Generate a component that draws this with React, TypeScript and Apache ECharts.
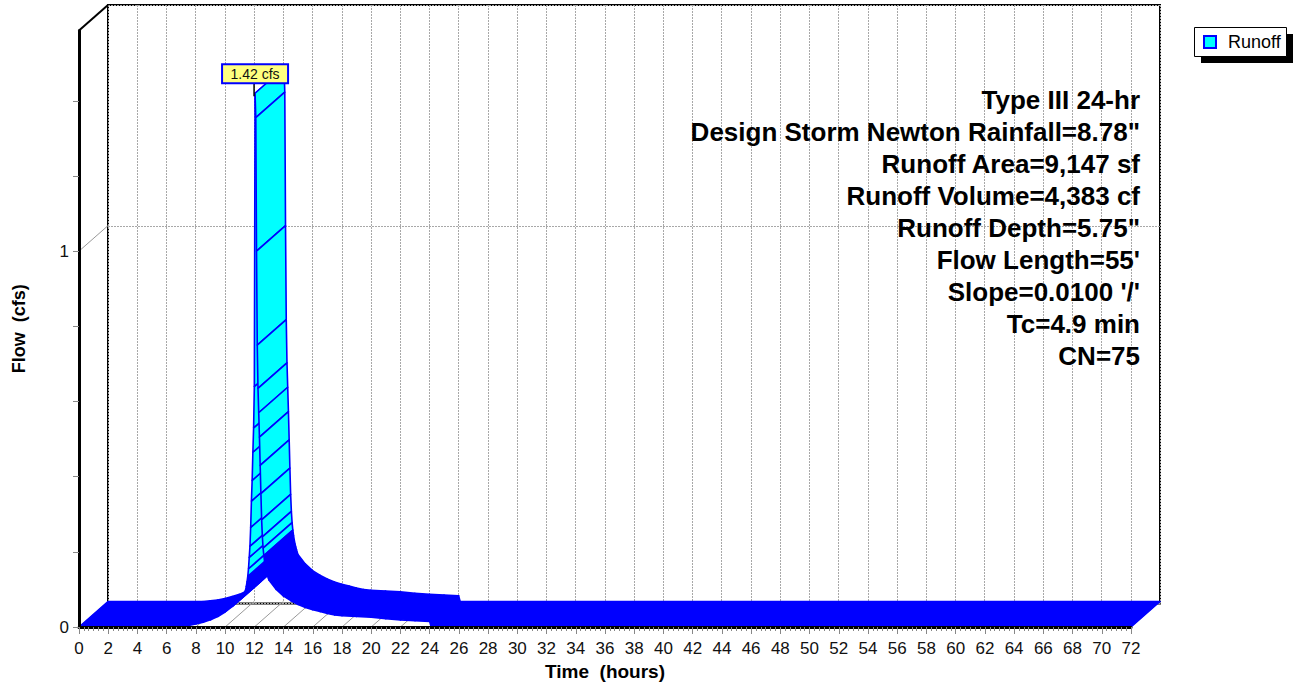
import React, { useEffect, useRef } from 'react';
import * as echarts from 'echarts';

// ---- data ----
const timeHours = [
  0, 6.5, 7.0, 7.5, 8.0, 8.5, 9.0, 9.5, 10.0, 10.5, 11.0, 11.2, 11.4, 11.45, 11.5, 11.55, 11.6,
  11.65, 11.7, 11.75, 11.8, 11.85, 11.9, 11.95, 12.0, 12.05, 12.1, 12.15, 12.2, 12.25, 12.3,
  12.35, 12.4, 12.45, 12.5, 12.55, 12.6, 12.65, 12.7, 12.75, 12.8, 12.85, 12.9, 12.95, 13.0,
  13.5, 14.0, 14.5, 15.0, 15.5, 16.0, 16.5, 17.0, 17.5, 18.0, 19.0, 20.0, 21.0, 22.0, 23.0,
  24.0, 24.1, 72,
];
const flowCfs = [
  0, 0, 0.002, 0.004, 0.008, 0.013, 0.019, 0.028, 0.04, 0.055, 0.072, 0.082, 0.098, 0.108, 0.12,
  0.135, 0.155, 0.185, 0.215, 0.265, 0.335, 0.39, 0.465, 0.53, 0.64, 1.42, 1.355, 1.0, 0.75,
  0.635, 0.57, 0.505, 0.43, 0.355, 0.285, 0.24, 0.21, 0.19, 0.175, 0.163, 0.153, 0.145, 0.138,
  0.131, 0.125, 0.1, 0.082, 0.07, 0.06, 0.052, 0.046, 0.041, 0.036, 0.032, 0.03, 0.028,
  0.026, 0.022, 0.019, 0.017, 0.015, 0, 0,
];
const seriesName = 'Runoff';
const peakLabel = '1.42 cfs';
const yTickValues = [0, 0.2, 0.4, 0.6, 0.8, 1, 1.2, 1.4];
const yLabelValues = [0, 1];
const annotationLines = [
  'Type III 24-hr',
  'Design Storm Newton Rainfall=8.78"',
  'Runoff Area=9,147 sf',
  'Runoff Volume=4,383 cf',
  'Runoff Depth=5.75"',
  "Flow Length=55'",
  "Slope=0.0100 '/'",
  'Tc=4.9 min',
  'CN=75',
];
const xAxisName = 'Time  (hours)';
const yAxisName = 'Flow  (cfs)';

// ---- layout / style constants ----
const X_MIN = 0;
const X_MAX = 72;
const Y_MAX = 1.587;
const DEPTH_X = 29;
const DEPTH_Y = -25.5;
const FONT = '"Liberation Sans", Arial, Helvetica, sans-serif';
const CYAN = '#00FFFF';
const BLUE = '#0000FF';
const GRID_GRAY = '#a8a8a8';

export default function App() {
  const ref = useRef<HTMLDivElement>(null);

  useEffect(() => {
    if (!ref.current) return;
    const chart = echarts.init(ref.current, undefined, { renderer: 'svg' });

    const segments: number[][] = [];
    for (let i = 0; i < timeHours.length - 1; i++) {
      segments.push([timeHours[i], flowCfs[i], timeHours[i + 1], flowCfs[i + 1]]);
    }
    let peakIdx = 0;
    flowCfs.forEach((v, i) => {
      if (v > flowCfs[peakIdx]) peakIdx = i;
    });
    const floorTicks: number[] = [];
    for (let t = X_MIN; t <= X_MAX; t += 2) floorTicks.push(t);

    const annotationGraphics = annotationLines.map((line, i) => ({
      type: 'text',
      x: 1140,
      y: 100 + i * 32,
      z: 20,
      style: {
        text: line,
        font: `bold 26px ${FONT}`,
        fill: '#000',
        textAlign: 'right',
        textVerticalAlign: 'middle',
        align: 'right',
        verticalAlign: 'middle',
      },
    }));

    const option: any = {
      animation: false,
      backgroundColor: '#fff',
      grid: [
        { left: 79, top: 30.5, width: 1052, height: 598.5, show: false },
        {
          left: 108,
          top: 5,
          width: 1052,
          height: 598.5,
          show: true,
          borderColor: '#000',
          borderWidth: 2,
          backgroundColor: 'transparent',
        },
      ],
      xAxis: [
        {
          type: 'value',
          gridIndex: 0,
          min: X_MIN,
          max: X_MAX,
          interval: 2,
          z: 5,
          name: xAxisName,
          nameLocation: 'middle',
          nameGap: 35,
          nameTextStyle: { fontFamily: FONT, fontWeight: 'bold', fontSize: 19, color: '#000' },
          axisLine: { show: true, lineStyle: { color: '#000', width: 3 } },
          axisTick: { show: true, length: 7, lineStyle: { color: '#888', width: 1 } },
          minorTick: { show: true, splitNumber: 6, length: 4, lineStyle: { color: '#888', width: 1 } },
          axisLabel: { fontFamily: FONT, fontSize: 17, color: '#111', margin: 13 },
          splitLine: { show: false },
        },
        {
          type: 'value',
          gridIndex: 1,
          min: X_MIN,
          max: X_MAX,
          interval: 2,
          axisLine: { show: false },
          axisTick: { show: false },
          axisLabel: { show: false },
          splitLine: { show: true, lineStyle: { color: GRID_GRAY, width: 1, type: [2, 1] } },
        },
      ],
      yAxis: [
        {
          type: 'value',
          gridIndex: 0,
          min: 0,
          max: Y_MAX,
          z: 5,
          name: yAxisName,
          nameLocation: 'middle',
          nameGap: 51,
          nameTextStyle: { fontFamily: FONT, fontWeight: 'bold', fontSize: 18, color: '#000' },
          axisLine: { show: true, lineStyle: { color: '#000', width: 3 } },
          axisTick: {
            show: true,
            length: 6,
            customValues: yTickValues,
            lineStyle: { color: '#888', width: 1 },
          },
          axisLabel: {
            fontFamily: FONT,
            fontSize: 17,
            color: '#111',
            margin: 10,
            customValues: yLabelValues,
          },
          splitLine: { show: false },
        },
        {
          type: 'value',
          gridIndex: 1,
          min: 0,
          max: Y_MAX,
          interval: 1,
          axisLine: { show: false },
          axisTick: { show: false },
          axisLabel: { show: false },
          splitLine: { show: true, lineStyle: { color: GRID_GRAY, width: 1, type: [2, 1] } },
        },
      ],
      graphic: [
        // legend with drop shadow
        { type: 'rect', shape: { x: 1201, y: 34, width: 92, height: 29 }, style: { fill: '#000' }, z: 20 },
        {
          type: 'rect',
          shape: { x: 1194.5, y: 27.5, width: 92, height: 29 },
          style: { fill: '#fff', stroke: '#000', lineWidth: 1 },
          z: 21,
        },
        {
          type: 'rect',
          shape: { x: 1204, y: 36, width: 12, height: 12 },
          style: { fill: CYAN, stroke: BLUE, lineWidth: 2 },
          z: 22,
        },
        {
          type: 'text',
          x: 1228,
          y: 42,
          z: 22,
          style: {
            text: seriesName,
            font: `18px ${FONT}`,
            fill: '#000',
            textVerticalAlign: 'middle',
            verticalAlign: 'middle',
          },
        },
        ...annotationGraphics,
      ],
      series: [
        {
          // floor grid lines and side wall lines
          type: 'custom',
          name: 'floor',
          xAxisIndex: 0,
          yAxisIndex: 0,
          z: 1,
          silent: true,
          clip: false,
          data: floorTicks.map((t) => [t]),
          renderItem: (params: any, api: any) => {
            const t = api.value(0);
            const p = api.coord([t, 0]);
            const children: any[] = [
              {
                type: 'line',
                shape: { x1: p[0], y1: p[1], x2: p[0] + DEPTH_X, y2: p[1] + DEPTH_Y },
                style: { stroke: '#999', lineWidth: 1 },
              },
            ];
            if (t === X_MIN) {
              const p1 = api.coord([X_MIN, 1]);
              const pt = api.coord([X_MIN, Y_MAX]);
              children.push({
                type: 'line',
                shape: { x1: p1[0], y1: p1[1], x2: p1[0] + DEPTH_X, y2: p1[1] + DEPTH_Y },
                style: { stroke: '#999', lineWidth: 1 },
              });
              children.push({
                type: 'line',
                shape: { x1: pt[0], y1: pt[1], x2: pt[0] + DEPTH_X, y2: pt[1] + DEPTH_Y },
                style: { stroke: '#000', lineWidth: 2 },
              });
            }
            return { type: 'group', children };
          },
        },
        {
          // 3-D ribbon hydrograph
          type: 'custom',
          name: seriesName,
          xAxisIndex: 0,
          yAxisIndex: 0,
          z: 2,
          silent: true,
          clip: false,
          itemStyle: { color: CYAN, borderColor: BLUE },
          encode: { x: [0, 2], y: [1, 3] },
          data: segments,
          renderItem: (params: any, api: any) => {
            const p0 = api.coord([api.value(0), api.value(1)]);
            const p1 = api.coord([api.value(2), api.value(3)]);
            const b0 = [p0[0] + DEPTH_X, p0[1] + DEPTH_Y];
            const b1 = [p1[0] + DEPTH_X, p1[1] + DEPTH_Y];
            const dx = Math.abs(p1[0] - p0[0]);
            const dy = Math.abs(p1[1] - p0[1]);
            const steep = dy > 6.5 && dy > 3 * dx;
            return {
              type: 'polygon',
              shape: { points: [p0, p1, b1, b0] },
              style: {
                fill: steep ? CYAN : BLUE,
                stroke: BLUE,
                lineWidth: 1.6,
                lineJoin: 'round',
              },
            };
          },
        },
        {
          // peak label
          type: 'custom',
          name: 'peak',
          xAxisIndex: 0,
          yAxisIndex: 0,
          z: 3,
          silent: true,
          clip: false,
          data: [[timeHours[peakIdx], flowCfs[peakIdx]]],
          renderItem: (params: any, api: any) => {
            const p = api.coord([api.value(0), api.value(1)]);
            return {
              type: 'group',
              children: [
                {
                  type: 'line',
                  shape: { x1: p[0] - 1, y1: p[1] - 10, x2: p[0] - 1, y2: p[1] + 3 },
                  style: { stroke: '#000', lineWidth: 1.5 },
                },
                {
                  type: 'rect',
                  shape: { x: p[0] - 33, y: p[1] - 29, width: 66, height: 19 },
                  style: { fill: '#FFFF80', stroke: BLUE, lineWidth: 2 },
                },
                {
                  type: 'text',
                  x: p[0],
                  y: p[1] - 19.5,
                  style: {
                    text: peakLabel,
                    font: `14px ${FONT}`,
                    fill: '#111',
                    textAlign: 'center',
                    textVerticalAlign: 'middle',
                    align: 'center',
                    verticalAlign: 'middle',
                  },
                },
              ],
            };
          },
        },
      ],
    };

    chart.setOption(option);
    return () => chart.dispose();
  }, []);

  return (
    <div
      ref={ref}
      style={{ position: 'absolute', left: 0, top: 0, width: 1294, height: 686, background: '#fff' }}
    />
  );
}
